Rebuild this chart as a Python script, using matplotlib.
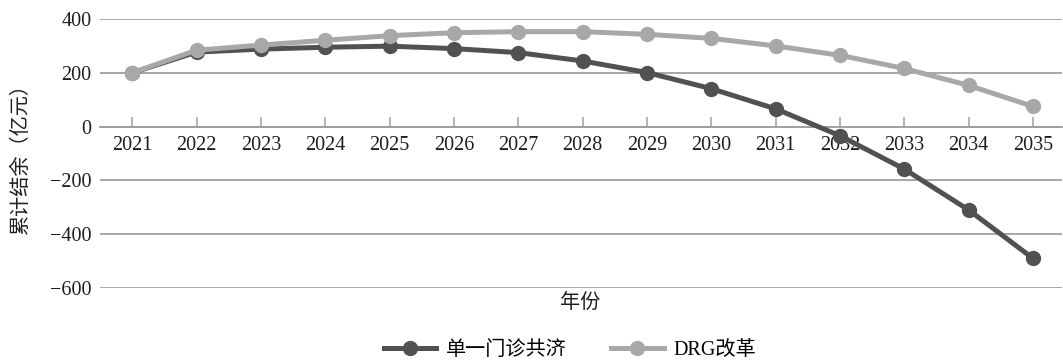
import matplotlib
matplotlib.use("Agg")
import matplotlib.pyplot as plt

plt.rcParams['font.family'] = ['Liberation Serif', 'Noto Sans CJK SC']
plt.rcParams['axes.unicode_minus'] = True

# === Données ===
years = [2021, 2022, 2023, 2024, 2025, 2026, 2027, 2028, 2029, 2030,
         2031, 2032, 2033, 2034, 2035]
single_outpatient = [200, 277, 288, 295, 299, 290, 275, 244, 201, 141,
                     66, -34, -158, -310, -490]
drg_reform = [200, 284, 303, 321, 338, 349, 353, 353, 343, 328,
              300, 265, 216, 153, 75]
labels = ["单一门诊共济", "DRG改革"]

DARK = "#505153"
LIGHT = "#a7a8aa"
GRID = "#a0a0a0"
TXT = "#1e1e1e"
FS = 14.5

fig = plt.figure(figsize=(10.63, 3.61), dpi=100)
ax = fig.add_axes([100 / 1063, 1 - 288 / 361, 962 / 1063, (288 - 19) / 361])

ax.plot(years, single_outpatient, color=DARK, lw=3.6, marker="o", ms=10,
        label=labels[0], zorder=3)
ax.plot(years, drg_reform, color=LIGHT, lw=3.6, marker="o", ms=10,
        label=labels[1], zorder=4)

ax.set_ylim(-600, 400)
ax.set_yticks([-600, -400, -200, 0, 200, 400])
ax.set_xlim(2020.5, 2035.45)
ax.set_xticks(years)
ax.yaxis.grid(True, color=GRID, lw=1.3)
ax.set_axisbelow(True)

for s in ["top", "right", "left"]:
    ax.spines[s].set_visible(False)
ax.spines["bottom"].set_position(("data", 0))
ax.spines["bottom"].set_color(GRID)
ax.spines["bottom"].set_linewidth(1.3)

ax.tick_params(axis="x", direction="in", length=7, width=1.1, color=GRID,
               labelsize=FS, pad=7, labelcolor=TXT)
ax.tick_params(axis="y", length=0, labelsize=FS, pad=6, labelcolor=TXT)

ax.set_ylabel("累计结余（亿元）", fontsize=FS, color=TXT, labelpad=14)
fig.text(580 / 1063, 1 - 303 / 361, "年份", ha="center", va="center",
         fontsize=FS, color=TXT)

fig.legend(loc="center", bbox_to_anchor=(570 / 1063, 1 - 350 / 361), ncol=2,
           frameon=False, fontsize=FS, handlelength=2.6, columnspacing=2.2,
           handletextpad=0.5)

fig.savefig("out.png", dpi=100)
